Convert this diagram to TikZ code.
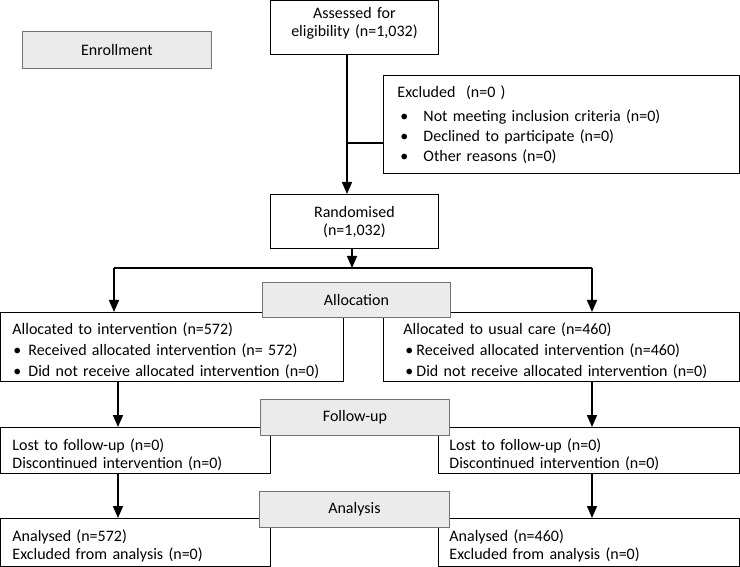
\documentclass[tikz,border=0pt]{standalone}
\usepackage{fontspec}
\setmainfont{Carlito}
\usetikzlibrary{arrows.meta}
\newcommand{\bitem}[2]{\hspace*{#1}\makebox[#2][l]{\textbullet}}

\begin{document}
\begin{tikzpicture}[x=1pt, y=-1pt,
	every node/.style={font=\fontsize{16}{21}\selectfont},
	tightrows/.style={font=\fontsize{16}{18.5}\selectfont},
	flowbox/.style={draw=black, line width=0.9pt, fill=white, anchor=north west, inner ysep=0pt},
	stagebox/.style={draw=black!55, line width=0.9pt, fill=black!8, anchor=north west, inner sep=0pt},
	flowarrow/.style={line width=1.6pt, -{Triangle[width=10pt,length=12pt]}},
	flowline/.style={line width=1.6pt}]
			%%%%% START %%%%%
			
			\useasboundingbox (0, 0) rectangle (740, 567);
			
			\node[stagebox, minimum width=189pt, minimum height=37pt] (enroll) at (22, 31) {Enrollment};
			
			\node[flowbox, tightrows, align=center, inner xsep=0pt, text width=168pt, text height=18pt, text depth=36pt] (assess) at (270, 0) {Assessed for\\eligibility (n=1,032)};
			\node[flowbox, align=left, inner xsep=14pt, text width=328pt, text height=22pt, text depth=76pt] (excl) at (383, 75) {Excluded~~(n=0 )\\[3pt]
				\bitem{3pt}{23pt}Not meeting inclusion criteria (n=0)\\[-1pt]
				\bitem{3pt}{23pt}Declined to participate (n=0)\\[-1pt]
				\bitem{3pt}{23pt}Other reasons (n=0)};
			\node[flowbox, tightrows, align=center, inner xsep=0pt, text width=168pt, text height=23pt, text depth=31pt] (rand) at (270, 194) {Randomised\\(n=1,032)};
			
			\node[flowbox, align=left, inner xsep=12pt, text width=319pt, text height=22pt, text depth=47pt] (alloc1) at (0, 312) {Allocated to intervention (n=572)\\
				\bitem{1pt}{15pt}Received allocated intervention (n= 572)\\
				\bitem{1pt}{15pt}Did not receive allocated intervention (n=0)};
			\node[flowbox, align=left, inner xsep=20pt, text width=316pt, text height=22pt, text depth=47pt] (alloc2) at (383, 312) {Allocated to usual care (n=460)\\
				\bitem{2pt}{11pt}Received allocated intervention (n=460)\\
				\bitem{2pt}{11pt}Did not receive allocated intervention (n=0)};
			
			\node[flowbox, tightrows, align=left, inner xsep=12pt, text width=246pt, text height=23pt, text depth=23pt] (fu1) at (0, 427) {Lost to follow-up (n=0)\\Discontinued intervention (n=0)};
			\node[flowbox, tightrows, align=left, inner xsep=11pt, text width=279pt, text height=23pt, text depth=23pt] (fu2) at (438, 427) {Lost to follow-up (n=0)\\Discontinued intervention (n=0)};
			
			\node[flowbox, tightrows, align=left, inner xsep=12pt, text width=246pt, text height=23pt, text depth=25pt] (an1) at (0, 518) {Analysed (n=572)\\Excluded from analysis (n=0)};
			\node[flowbox, tightrows, align=left, inner xsep=11pt, text width=279pt, text height=23pt, text depth=25pt] (an2) at (438, 518) {Analysed (n=460)\\Excluded from analysis (n=0)};
			
			\node[stagebox, minimum width=188pt, minimum height=35pt] (allocation) at (262, 282) {Allocation};
			\node[stagebox, minimum width=189pt, minimum height=36pt] (followup) at (260, 399) {Follow-up};
			\node[stagebox, minimum width=190pt, minimum height=36pt] (analysis) at (259, 491) {Analysis};
			
			\coordinate (branch) at (347, 143);
			\coordinate (splitL) at (114, 268);
			\coordinate (splitR) at (592, 268);
			\coordinate (splitM) at (352, 268);
			\coordinate (colL) at (118, 0);
			\coordinate (colR) at (592, 0);
			
			\draw[flowarrow] (branch |- assess.south) -- (branch |- rand.north);
			\draw[flowline] (branch) -- (branch -| excl.west);
			\draw[flowarrow] (splitM |- rand.south) -- (splitM);
			\draw[flowline] (splitL) -- (splitR);
			\draw[flowarrow] (splitL) -- (splitL |- alloc1.north);
			\draw[flowarrow] (splitR) -- (splitR |- alloc2.north);
			
			\draw[flowarrow] (colL |- alloc1.south) -- (colL |- fu1.north);
			\draw[flowarrow] (colR |- alloc2.south) -- (colR |- fu2.north);
			\draw[flowarrow] (colL |- fu1.south) -- (colL |- an1.north);
			\draw[flowarrow] (colR |- fu2.south) -- (colR |- an2.north);
			
			%%%%% END %%%%%
\end{tikzpicture}
\end{document}
